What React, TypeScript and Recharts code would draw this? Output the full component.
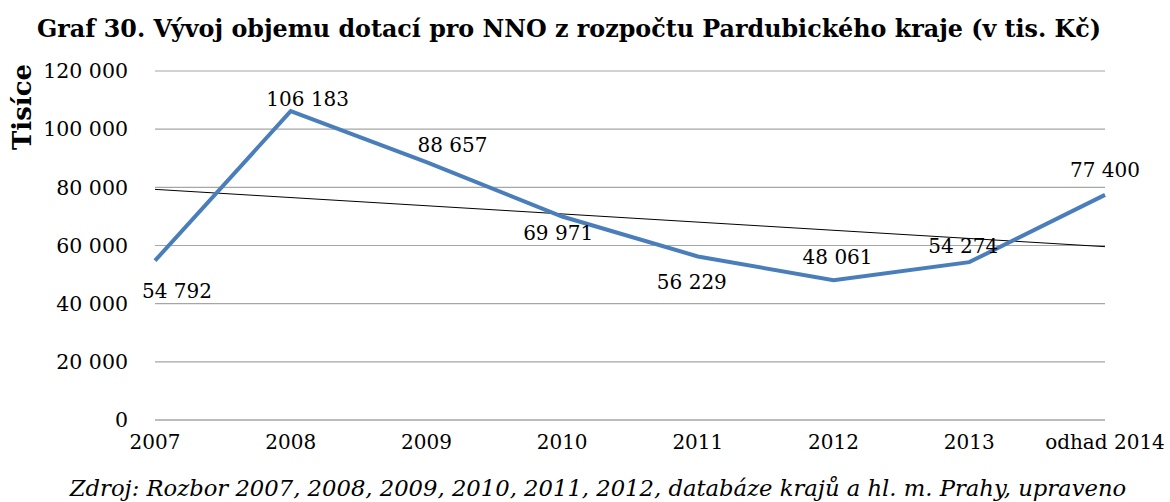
import React from "react";
import {
  LineChart,
  Line,
  XAxis,
  YAxis,
  CartesianGrid,
  LabelList,
  ReferenceLine,
} from "recharts";

const years = ["2007", "2008", "2009", "2010", "2011", "2012", "2013", "odhad 2014"];
const dotace = [54792, 106183, 88657, 69971, 56229, 48061, 54274, 77400];
const yTicks = [0, 20000, 40000, 60000, 80000, 100000, 120000];
// linear trend as drawn in the picture (start / end)
const trendStart = 79300;
const trendEnd = 59600;

// label placement relative to the point (Excel labels were moved by hand)
const labelShift = [
  [22, 30],
  [17, -12],
  [26, -17],
  [-4, 16],
  [-6, 26],
  [4, -23],
  [-6, -16],
  [0, -25],
];

const data = years.map((year, i) => ({ year, value: dotace[i] }));

const fmt = (n: number) => String(n).replace(/\B(?=(\d{3})+(?!\d))/g, " ");

const FONT = "'DejaVu Serif', serif";
const GRID = "#a6a6a6";

const ValueLabel = (props: any) => {
  const { x, y, index, value } = props;
  const [dx, dy] = labelShift[index];
  return (
    <text
      x={x + dx}
      y={y + dy}
      textAnchor="middle"
      dominantBaseline="central"
      fontFamily={FONT}
      fontSize={20}
      fill="#000"
    >
      {fmt(value)}
    </text>
  );
};

export default function App() {
  return (
    <div
      style={{
        position: "absolute",
        left: 0,
        top: 0,
        width: 1170,
        height: 502,
        background: "#fff",
        fontFamily: FONT,
      }}
    >
      <LineChart
        width={1170}
        height={502}
        data={data}
        margin={{ top: 71, right: 65, bottom: 52, left: 0 }}
      >
        <CartesianGrid vertical={false} stroke={GRID} strokeWidth={1.2} />
        <XAxis
          dataKey="year"
          axisLine={{ stroke: GRID }}
          tickLine={false}
          tickSize={0}
          tickMargin={15}
          interval={0}
          tick={{ fontSize: 20, fill: "#000", fontFamily: FONT }}
        />
        <YAxis
          width={155}
          domain={[0, 120000]}
          ticks={yTicks}
          tickFormatter={fmt}
          axisLine={false}
          tickLine={false}
          tickSize={0}
          tickMargin={27}
          tick={{ fontSize: 20.5, fill: "#000", fontFamily: FONT }}
          label={{
            content: () => (
              <text
                x={0}
                y={0}
                transform="translate(31,107) rotate(-90)"
                textAnchor="middle"
                fontFamily={FONT}
                fontWeight="bold"
                fontSize={26}
                fill="#000"
              >
                Tisíce
              </text>
            ),
          }}
        />
        <ReferenceLine
          segment={[
            { x: years[0], y: trendStart },
            { x: years[years.length - 1], y: trendEnd },
          ]}
          stroke="#000"
          strokeWidth={1}
          ifOverflow="visible"
        />
        <Line
          type="linear"
          dataKey="value"
          stroke="#4a7ebb"
          strokeWidth={4}
          dot={false}
          isAnimationActive={false}
        >
          <LabelList dataKey="value" content={ValueLabel} />
        </Line>
      </LineChart>
      <div
        style={{
          position: "absolute",
          top: 15,
          left: 0,
          width: 1138,
          textAlign: "center",
          fontWeight: "bold",
          fontSize: 23.8,
          lineHeight: "28px",
        }}
      >
        Graf 30. Vývoj objemu dotací pro NNO z rozpočtu Pardubického kraje (v tis. Kč)
      </div>
      <div
        style={{
          position: "absolute",
          top: 474,
          left: 0,
          width: 1196,
          textAlign: "center",
          fontStyle: "italic",
          fontSize: 22.7,
          lineHeight: "28px",
        }}
      >
        Zdroj: Rozbor 2007, 2008, 2009, 2010, 2011, 2012, databáze krajů a hl. m. Prahy, upraveno
      </div>
    </div>
  );
}
